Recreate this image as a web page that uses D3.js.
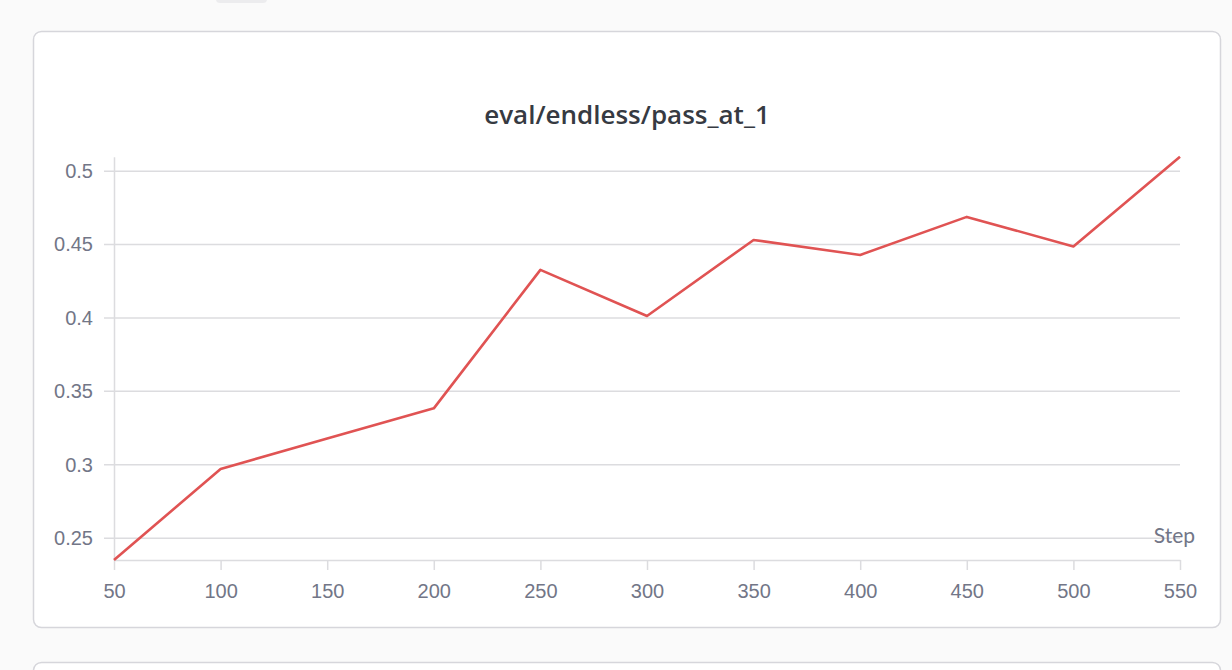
<!DOCTYPE html>
<html>
<head>
<meta charset="utf-8">
<script src="https://cdn.jsdelivr.net/npm/d3@7"></script>
<style>
    html, body { margin: 0; padding: 0; background: #fafafa; }
    svg { display: block; font-family: "Source Sans Pro", Lato, "Noto Sans", sans-serif; }
</style>
</head>
<body>
<svg id="chart"></svg>
<script>
// values
var steps = [50, 100, 150, 200, 250, 300, 350, 400, 450, 500, 550];
var passAt1 = [0.2348, 0.2968, 0.3175, 0.3381, 0.4324, 0.4010, 0.4528, 0.4426, 0.4685, 0.4484, 0.5095];
var yTicks = [0.25, 0.3, 0.35, 0.4, 0.45, 0.5];
var xTicks = [50, 100, 150, 200, 250, 300, 350, 400, 450, 500, 550];
var title = "eval/endless/pass_at_1";
var xLabel = "Step";

(function() {
    var W = 1232, H = 670;
    var svg = d3.select("#chart").attr("width", W).attr("height", H);

    // bits of the neighbouring panels
    svg.append("rect").attr("x", 216).attr("y", -6).attr("width", 51).attr("height", 9)
        .attr("rx", 4).attr("fill", "#ececee");
    svg.append("rect").attr("x", 33.5).attr("y", 662.5).attr("width", 1187).attr("height", 40)
        .attr("rx", 8).attr("fill", "#fff").attr("stroke", "#d6d6db").attr("stroke-width", 1.5);

    // main panel
    svg.append("rect").attr("x", 33.5).attr("y", 31.5).attr("width", 1187).attr("height", 596)
        .attr("rx", 8).attr("fill", "#fff").attr("stroke", "#d6d6db").attr("stroke-width", 1.5);

    svg.append("text")
        .attr("x", 627).attr("y", 124)
        .attr("text-anchor", "middle")
        .attr("font-family", "'Open Sans', Lato, sans-serif")
        .attr("font-size", "26px").attr("font-weight", 600)
        .attr("fill", "#363a42")
        .text(title);

    var data = steps.map((s, i) => ({ step: s, value: passAt1[i] }));

    var x = d3.scaleLinear().domain(d3.extent(steps)).range([114, 1180]);
    var y = d3.scaleLinear().domain(d3.extent(passAt1)).range([560, 156.7]);

    // y axis with gridlines
    var yAxis = svg.append("g")
        .attr("transform", "translate(" + x.range()[0] + ",0)")
        .call(d3.axisLeft(y).tickValues(yTicks).tickFormat(d => String(d))
            .tickSizeInner(-(x.range()[1] - x.range()[0])).tickSizeOuter(0));
    yAxis.select(".domain").attr("stroke", "#dcdcdf").attr("stroke-width", 1.5);
    yAxis.selectAll(".tick line").attr("x1", -10).attr("stroke", "#dcdcdf").attr("stroke-width", 1.5);
    yAxis.selectAll(".tick text")
        .attr("x", -21).attr("dy", "0.34em")
        .attr("font-size", "20px").attr("fill", "#727687");

    // x axis
    var xAxis = svg.append("g")
        .attr("transform", "translate(0," + y.range()[0] + ")")
        .call(d3.axisBottom(x).tickValues(xTicks).tickSize(10).tickSizeOuter(0));
    xAxis.select(".domain").attr("stroke", "#dcdcdf").attr("stroke-width", 1.5);
    xAxis.selectAll(".tick line").attr("stroke", "#dcdcdf").attr("stroke-width", 1.5);
    xAxis.selectAll(".tick text")
        .attr("y", 37.5).attr("dy", null)
        .attr("font-size", "20px").attr("fill", "#727687");

    svg.append("text")
        .attr("x", 1195).attr("y", 543)
        .attr("text-anchor", "end")
        .attr("font-size", "21px").attr("fill", "#727687")
        .text(xLabel);

    var line = d3.line().x(d => x(d.step)).y(d => y(d.value));
    svg.append("path")
        .datum(data)
        .attr("d", line)
        .attr("fill", "none")
        .attr("stroke", "#e05353")
        .attr("stroke-width", 2.6)
        .attr("stroke-linejoin", "round");
})();
</script>
</body>
</html>
